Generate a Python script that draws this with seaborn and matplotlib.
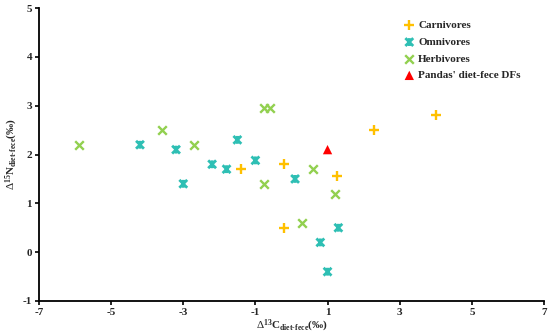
import numpy as np
import pandas as pd
import matplotlib
matplotlib.use("Agg")
import matplotlib.pyplot as plt
from matplotlib.path import Path
import seaborn as sns

# Data
carn_x = [-1.4, -0.2, -0.2, 1.25, 2.3, 4.0]
carn_y = [1.7, 1.8, 0.5, 1.56, 2.5, 2.8]
omni_x = [-4.2, -3.2, -3.0, -2.2, -1.8, -1.5, -1.0, 0.1, 0.8, 1.0, 1.3]
omni_y = [2.2, 2.1, 1.4, 1.8, 1.7, 2.3, 1.88, 1.5, 0.2, -0.4, 0.5]
herb_x = [-5.9, -3.6, -2.7, -0.75, -0.6, -0.75, 0.6, 1.2, 0.3]
herb_y = [2.2, 2.5, 2.2, 2.95, 2.95, 1.4, 1.7, 1.2, 0.6]
panda_x = [1.0]
panda_y = [2.1]

groups = ["Carnivores", "Omnivores", "Herbivores", "Pandas' diet-fece DFs"]
xticks = [-7, -5, -3, -1, 1, 3, 5, 7]
yticks = [-1, 0, 1, 2, 3, 4, 5]

df = pd.concat([
    pd.DataFrame({"x": carn_x, "y": carn_y, "g": groups[0]}),
    pd.DataFrame({"x": omni_x, "y": omni_y, "g": groups[1]}),
    pd.DataFrame({"x": herb_x, "y": herb_y, "g": groups[2]}),
    pd.DataFrame({"x": panda_x, "y": panda_y, "g": groups[3]}),
], ignore_index=True)

sns.set_style("ticks")
plt.rcParams["font.family"] = ["Liberation Serif", "DejaVu Serif"]
plt.rcParams["mathtext.fontset"] = "custom"
plt.rcParams["mathtext.rm"] = "Liberation Serif"
plt.rcParams["mathtext.bf"] = "Liberation Serif:bold"
plt.rcParams["mathtext.it"] = "Liberation Serif:italic"
plt.rcParams["axes.unicode_minus"] = False

fig = plt.figure(figsize=(5.5, 3.35), dpi=100)
ax = fig.add_axes([0.0709, 0.1015, 0.9181, 0.8745])

star = Path([(-1, -1), (1, 1), (-1, 1), (1, -1), (0, -1), (0, 1)],
            [Path.MOVETO, Path.LINETO, Path.MOVETO, Path.LINETO, Path.MOVETO, Path.LINETO])

colors = {groups[0]: "#FFC000", groups[1]: "#2EBFB4", groups[2]: "#92D050", groups[3]: "#FF0000"}
markers = {groups[0]: "+", groups[1]: star, groups[2]: "x", groups[3]: "^"}
sizes = {groups[0]: 42, groups[1]: 32, groups[2]: 38, groups[3]: 45}

for g in groups:
    sub = df[df["g"] == g]
    if g == groups[3]:
        kw = dict(edgecolor="none")
    elif g == groups[1]:
        kw = dict(linewidth=2.0, edgecolor=colors[g], facecolor="none")
    else:
        kw = dict(linewidth=1.7)
    sns.scatterplot(data=sub, x="x", y="y", ax=ax, color=colors[g], marker=markers[g],
                    s=sizes[g], label=g, zorder=3, **kw)

ax.set_xlim(-7, 7)
ax.set_ylim(-1, 5)
ax.set_xticks(xticks)
ax.set_yticks(yticks)
ax.tick_params(axis="both", labelsize=8, width=1.2, length=3, pad=2, color="black")
for lab in ax.get_xticklabels() + ax.get_yticklabels():
    lab.set_fontweight("bold")
for s in ["top", "right"]:
    ax.spines[s].set_visible(False)
for s in ["left", "bottom"]:
    ax.spines[s].set_linewidth(1.3)
    ax.spines[s].set_color("black")

ax.set_xlabel(r"$\Delta^{\mathbf{13}}\mathbf{C}_{\mathbf{diet\text{-}fece}}$(‰)", fontsize=8, fontweight="bold", labelpad=1)
ax.set_ylabel(r"$\Delta^{\mathbf{15}}\mathbf{N}_{\mathbf{diet\text{-}fece}}$(‰)", fontsize=8, fontweight="bold", labelpad=2)

leg = ax.legend(loc="upper left", bbox_to_anchor=(0.728, 0.952), bbox_transform=fig.transFigure,
                frameon=False, prop={"weight": "bold", "size": 8}, handlelength=0.8,
                handletextpad=0.4, labelspacing=0.62, borderaxespad=0)

fig.savefig("out.png", dpi=100)
